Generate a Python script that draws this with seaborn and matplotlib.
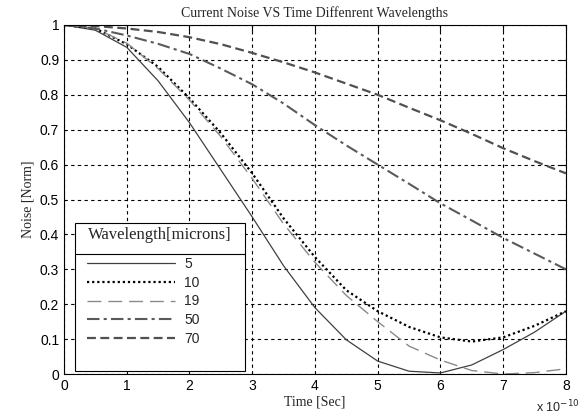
import matplotlib
matplotlib.use("Agg")
import matplotlib.pyplot as plt
import seaborn as sns
import pandas as pd
from matplotlib.lines import Line2D
from matplotlib.patches import Rectangle

sns.set_style("white")

time = [0, 0.5, 1, 1.5, 2, 2.5, 3, 3.5, 4, 4.5, 5, 5.5, 6, 6.5, 7, 7.5, 8]
noise_5 = [1, 0.985, 0.936, 0.84, 0.72, 0.585, 0.45, 0.31, 0.19, 0.098, 0.037, 0.008, 0.003, 0.026, 0.07, 0.12, 0.18]
noise_10 = [1, 0.99, 0.945, 0.88, 0.79, 0.69, 0.575, 0.446, 0.335, 0.24, 0.18, 0.135, 0.105, 0.093, 0.105, 0.138, 0.18]
noise_19 = [1, 0.99, 0.948, 0.875, 0.785, 0.68, 0.56, 0.43, 0.32, 0.225, 0.15, 0.08, 0.04, 0.01, 0.0, 0.004, 0.015]
noise_50 = [1, 0.99, 0.97, 0.946, 0.917, 0.875, 0.83, 0.775, 0.713, 0.655, 0.60, 0.545, 0.489, 0.44, 0.39, 0.345, 0.30]
noise_70 = [1, 0.997, 0.99, 0.98, 0.965, 0.945, 0.92, 0.893, 0.864, 0.832, 0.80, 0.763, 0.727, 0.688, 0.647, 0.61, 0.575]
labels = ["5", "10", "19", "50", "70"]
series = [noise_5, noise_10, noise_19, noise_50, noise_70]

styles = {
    "5": dict(color="#404040", lw=0.9, ls="-"),
    "10": dict(color="#000000", lw=1.6, ls=(0, (1, 1.3))),
    "19": dict(color="#8a8a8a", lw=1.0, ls=(0, (10, 5))),
    "50": dict(color="#5a5a5a", lw=1.5, ls=(0, (6, 2, 1.5, 2))),
    "70": dict(color="#505050", lw=1.6, ls=(0, (4, 2))),
}

fig = plt.figure(figsize=(5.84, 4.2), dpi=100)
ax = fig.add_axes([0.1096, 0.1095, 0.8594, 0.831])

for lab, vals in zip(labels, series):
    df = pd.DataFrame({"t": time, "n": vals})
    st = styles[lab]
    sns.lineplot(data=df, x="t", y="n", ax=ax, color=st["color"], linewidth=st["lw"],
                 linestyle=st["ls"], label=lab)

ax.set_xlim(0, 8)
ax.set_ylim(0, 1)
ax.set_xticks(range(0, 9))
ax.set_yticks([i / 10 for i in range(0, 11)])
ax.set_yticklabels(["0", "0.1", "0.2", "0.3", "0.4", "0.5", "0.6", "0.7", "0.8", "0.9", "1"])
ax.tick_params(direction="in", length=4, labelsize=10, colors="black", top=True, right=True,
               labeltop=False, labelright=False)
for lbl in ax.get_xticklabels() + ax.get_yticklabels():
    lbl.set_family("Liberation Sans")
ax.grid(True, color="black", linestyle=(0, (3, 3)), linewidth=0.8)
for s in ax.spines.values():
    s.set_color("black")
    s.set_linewidth(0.8)

ax.set_title("Current Noise VS Time Diffenrent Wavelengths", family="Liberation Serif", fontsize=10, pad=6)
ax.set_xlabel("Time [Sec]", family="Liberation Serif", fontsize=10, labelpad=2)
ax.set_ylabel("Noise [Norm]", family="Liberation Serif", fontsize=10, labelpad=4)
fig.text(0.918, 0.018, "x 10$^{-10}$", fontsize=9, family="Liberation Sans")

# legend box with title and separator
box = Rectangle((0.022, 0.008), 0.338, 0.425, transform=ax.transAxes, facecolor="white",
                edgecolor="black", lw=0.8, zorder=4.5)
ax.add_patch(box)
ax.add_line(Line2D([0.022, 0.36], [0.344, 0.344], transform=ax.transAxes, color="black",
                   lw=0.8, zorder=4.6))
ax.text(0.19, 0.397, "Wavelength[microns]", transform=ax.transAxes, ha="center", va="center",
        family="Liberation Serif", fontsize=12, zorder=4.7)

leg = ax.legend(loc="upper left", bbox_to_anchor=(0.046, 0.336), frameon=False,
                handlelength=6.3, handletextpad=0.7, fontsize=10, borderaxespad=0,
                labelspacing=0.35, borderpad=0)
leg.set_zorder(5)
for t in leg.get_texts():
    t.set_family("Liberation Sans")

fig.savefig("out.png", dpi=100)
